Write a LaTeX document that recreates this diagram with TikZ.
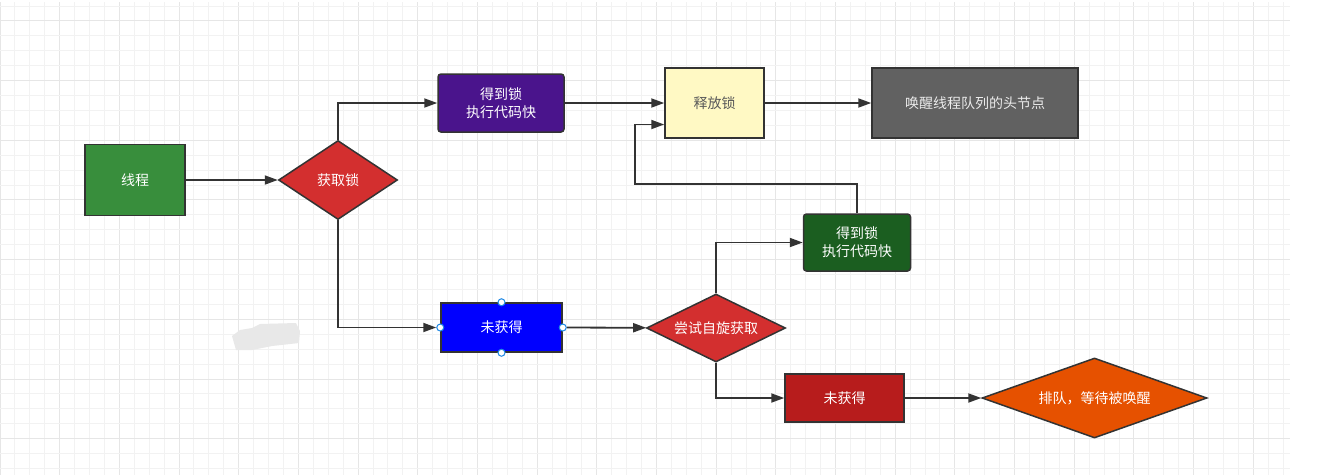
\documentclass[tikz,border=0pt]{standalone}
\usepackage{fontspec}
\newfontfamily\cjk{Noto Sans CJK SC}
\usetikzlibrary{arrows.meta, positioning, shapes.geometric}

\definecolor{lineclr}{HTML}{333333}
\definecolor{gridminor}{HTML}{F2F2F2}
\definecolor{gridmajor}{HTML}{E6E6E6}
\definecolor{threadgreen}{HTML}{388E3C}
\definecolor{lockred}{HTML}{D32F2F}
\definecolor{gotpurple}{HTML}{4A148C}
\definecolor{relyellow}{HTML}{FFF9C4}
\definecolor{wakegray}{HTML}{616161}
\definecolor{gotgreen}{HTML}{1B5E20}
\definecolor{missblue}{HTML}{0000FF}
\definecolor{missred}{HTML}{B71C1C}
\definecolor{queueorange}{HTML}{E65100}
\definecolor{handleclr}{HTML}{1E88E5}

\tikzset{
  box/.style={draw=lineclr, line width=1.5pt, rectangle, inner sep=0pt, text=white, align=center,
    font=\cjk\fontsize{14}{18}\selectfont},
  decide/.style={draw=lineclr, line width=1.5pt, diamond, inner sep=0pt, text=white, align=center,
    font=\cjk\fontsize{14}{18}\selectfont},
  flow/.style={draw=lineclr, line width=1.8pt, -{Triangle[length=13pt,width=9pt]}},
  handle/.style={circle, draw=handleclr, fill=white, line width=1pt, inner sep=0pt, minimum size=7pt},
}

\begin{document}
\begin{tikzpicture}[x=1pt, y=-1pt]

	% Background and grid
	\fill[white] (0,0) rectangle (1327,475);
	\useasboundingbox (0,0) rectangle (1327,475);
	\foreach \k in {0,...,86} {
		\pgfmathsetmacro{\gx}{\k*14.92}
		\pgfmathtruncatemacro{\m}{mod(\k,4)}
		\ifnum\m=0 \draw[gridmajor, line width=1pt] (\gx,2) -- (\gx,475);
		\else \draw[gridminor, line width=1pt] (\gx,2) -- (\gx,475); \fi
	}
	\foreach \k in {0,...,31} {
		\pgfmathsetmacro{\gy}{6+\k*14.92}
		\pgfmathtruncatemacro{\m}{mod(\k,4)}
		\ifnum\m=1 \draw[gridmajor, line width=1pt] (0,\gy) -- (1290,\gy);
		\else \draw[gridminor, line width=1pt] (0,\gy) -- (1290,\gy); \fi
	}

	% Smudge
	\fill[black!9] (232,336) -- (240,330) -- (252,328) -- (260,324) -- (296,323) -- (300,331)
		-- (299,343) -- (272,346) -- (252,350) -- (236,350) -- cycle;

	% Nodes
	\node[box, fill=threadgreen, minimum width=100, minimum height=71] (thread) at (135,180) {线程};
	\node[decide, fill=lockred, shape aspect=1.5, minimum width=119, minimum height=79] (acq) at (338,180) {获取锁};
	\node[box, fill=gotpurple, rounded corners=3pt, minimum width=126, minimum height=58] (got1) at (501,103) {得到锁\\执行代码快};
	\node[box, fill=relyellow, text=black!65, minimum width=99, minimum height=70] (rel) at (714.5,103) {释放锁};
	\node[box, fill=wakegray, text=black!8, minimum width=206, minimum height=70] (wake) at (975,103) {唤醒线程队列的头节点};
	\node[box, fill=missblue, minimum width=121, minimum height=49] (miss1) at (501.5,327.5) {未获得};
		\node[handle] (hn) at (miss1.north) {};
		\node[handle] (hs) at (miss1.south) {};
		\node[handle] (hw) at (miss1.west) {};
		\node[handle] (he) at (miss1.east) {};
	\node[decide, fill=lockred, shape aspect=2.1, minimum width=139, minimum height=68] (spin) at (716,328) {尝试自旋获取};
	\node[box, fill=gotgreen, rounded corners=3pt, minimum width=107, minimum height=57] (got2) at (857,242.5) {得到锁\\执行代码快};
	\node[box, fill=missred, minimum width=119, minimum height=48] (miss2) at (844.5,398) {未获得};
	\node[decide, fill=queueorange, shape aspect=2.8, minimum width=225, minimum height=80] (queue) at (1094.5,398) {排队，等待被唤醒};
	\coordinate (back) at (635,184);

	% Arrows
	\draw[flow] (thread) -- (acq);
	\draw[flow] (acq.north) |- (got1.west);
	\draw[flow] (got1) -- (rel);
	\draw[flow] (rel) -- (wake);
	\draw[flow] (acq.south) |- (hw);
	\draw[flow] (he) -- (spin);
	\draw[flow] (spin.north) |- (got2.west);
	\draw[flow] (spin.south) |- (miss2.west);
	\draw[flow] (miss2) -- (queue);
	\draw[flow] (got2.north) |- (back) |- ([yshift=-21.5pt]rel.west);

\end{tikzpicture}
\end{document}
